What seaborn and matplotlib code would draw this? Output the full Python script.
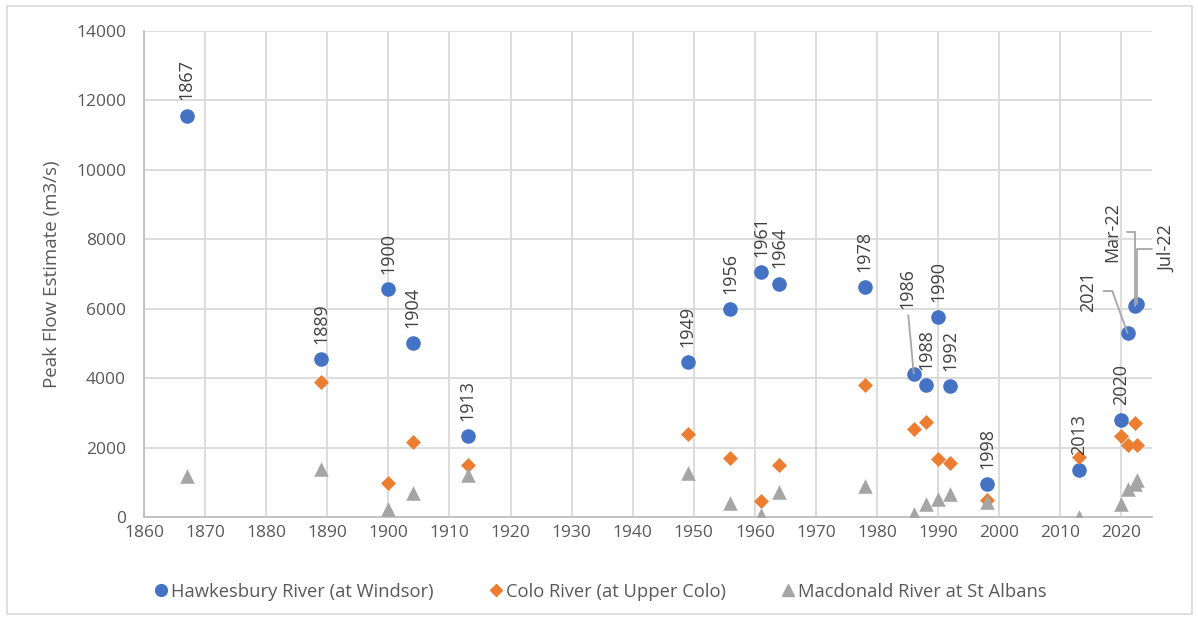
import matplotlib
matplotlib.use("Agg")
import matplotlib.pyplot as plt
import seaborn as sns
import pandas as pd
from matplotlib.lines import Line2D
from matplotlib.patches import Rectangle

# ---- data ----
years = [1867, 1889, 1900, 1904, 1913, 1949, 1956, 1961, 1964, 1978,
         1986, 1988, 1990, 1992, 1998, 2013, 2020, 2021, 2022.2, 2022.5]
event_labels = ["1867", "1889", "1900", "1904", "1913", "1949", "1956", "1961", "1964", "1978",
                "1986", "1988", "1990", "1992", "1998", "2013", "2020", "2021", "Mar-22", "Jul-22"]
hawkesbury = [11560, 4550, 6560, 5010, 2320, 4470, 5990, 7050, 6720, 6620,
              4130, 3800, 5760, 3770, 950, 1350, 2780, 5300, 6070, 6150]
colo = [None, 3900, 980, 2170, 1500, 2400, 1690, 460, 1500, 3800,
        2530, 2750, 1680, 1560, 500, 1720, 2320, 2070, 2720, 2080]
macdonald = [1180, 1370, 230, 680, 1200, 1270, 410, 50, 730, 880,
             80, 380, 520, 670, 430, 10, 380, 800, 950, 1060]

series_names = ["Hawkesbury River (at Windsor)", "Colo River (at Upper Colo)",
                "Macdonald River at St Albans"]
x_ticks = list(range(1860, 2030, 10))
y_ticks = list(range(0, 16000, 2000))

# ---- style ----
sns.set_theme(style="white")
plt.rcParams["font.family"] = ["Open Sans", "DejaVu Sans"]

blue, orange, gray = "#4472C4", "#ED7D31", "#A5A5A5"
text_col = "#595959"
label_col = "#404040"
grid_col = "#D9D9D9"

df = pd.DataFrame({"year": years, series_names[0]: hawkesbury,
                   series_names[1]: colo, series_names[2]: macdonald})
long = df.melt(id_vars="year", var_name="series", value_name="flow").dropna()

fig = plt.figure(figsize=(11.98, 6.21), dpi=100)
ax = fig.add_axes([0.1202, 0.1675, 0.8414, 0.7825])

marker_specs = [("o", blue, 110), ("D", orange, 58), ("^", gray, 110)]
for name, (m, c, sz) in zip(series_names, marker_specs):
    sub = long[long["series"] == name]
    sns.scatterplot(data=sub, x="year", y="flow", marker=m, color=c, s=sz,
                    linewidth=0, ax=ax, legend=False, zorder=3)

ax.set_xlim(1860, 2025)
ax.set_ylim(0, 14000)
ax.set_xticks(x_ticks)
ax.set_yticks(y_ticks)
ax.grid(True, color=grid_col, linewidth=1.3, zorder=0)
ax.set_axisbelow(True)
for s in ["top", "right"]:
    ax.spines[s].set_visible(False)
for s in ["left", "bottom"]:
    ax.spines[s].set_color("#BFBFBF")
    ax.spines[s].set_linewidth(1.3)
ax.tick_params(axis="both", length=0, labelsize=12.5, labelcolor=text_col)
ax.tick_params(axis="y", pad=13)
ax.tick_params(axis="x", pad=6)
ax.set_xlabel("")
ax.set_ylabel("Peak Flow Estimate (m3/s)", fontsize=13.5, color=text_col, labelpad=11)

# ---- data labels ----
special = {
    "1986": dict(off=(-6, -85), relpos=(0.5, 0.0), conn="arc3"),
    "2021": dict(off=(-39, -42), relpos=(1.0, 0.5), conn="angle,angleA=0,angleB=110,rad=0"),
    "Mar-22": dict(off=(-23, -74), relpos=(1.0, 0.5), conn="angle,angleA=0,angleB=90,rad=0"),
    "Jul-22": dict(off=(30, -55), relpos=(0.0, 0.5), conn="angle,angleA=0,angleB=90,rad=0"),
}
for x, y, lab in zip(years, hawkesbury, event_labels):
    if lab in special:
        sp = special[lab]
        ax.annotate(lab, xy=(x, y), xytext=(sp["off"][0] * 0.72, -sp["off"][1] * 0.72),
                    textcoords="offset points", rotation=90, ha="center", va="center",
                    fontsize=13, color=label_col, zorder=4,
                    arrowprops=dict(arrowstyle="-", color="#A6A6A6", lw=1.3,
                                    relpos=sp["relpos"], connectionstyle=sp["conn"],
                                    shrinkA=2, shrinkB=0))
    else:
        ax.annotate(lab, xy=(x, y), xytext=(0, 11), textcoords="offset points",
                    rotation=90, ha="center", va="bottom", fontsize=13,
                    color=label_col, zorder=4)

# ---- legend ----
handles = [Line2D([], [], marker=m, color=c, linestyle="", markersize=ms)
           for m, c, ms in zip(["o", "D", "^"], [blue, orange, gray], [8.5, 6, 8.5])]
fig.legend(handles, series_names, loc="center", bbox_to_anchor=(0.5, 0.047),
           ncol=3, frameon=False, fontsize=13.2, labelcolor=text_col,
           handletextpad=0.05, columnspacing=2.9, handlelength=1.0)

# chart border
fig.patches.append(Rectangle((0.006, 0.011), 0.989, 0.98, transform=fig.transFigure,
                             fill=False, edgecolor="#D9D9D9", linewidth=1.2))

fig.savefig("out.png", dpi=100, facecolor="white")
